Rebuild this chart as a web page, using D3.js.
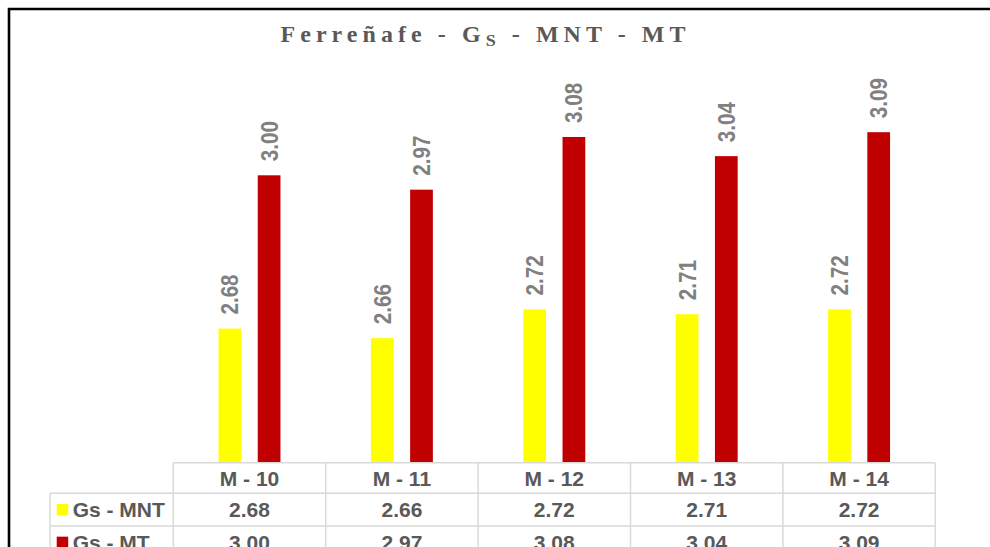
<!DOCTYPE html>
<html>
<head>
<meta charset="utf-8">
<script src="https://cdn.jsdelivr.net/npm/d3@7"></script>
<style>
  html, body { margin: 0; padding: 0; background: #fff; }
  svg { display: block; }
</style>
</head>
<body>
<svg id="chart" width="990" height="547"></svg>
<script>
// Specific gravity per sample, soil without treatment vs. treated soil
const categories = ["M - 10", "M - 11", "M - 12", "M - 13", "M - 14"];
const seriesNames = ["Gs - MNT", "Gs - MT"];
const valuesMNT = [2.68, 2.66, 2.72, 2.71, 2.72];
const valuesMT  = [3.00, 2.97, 3.08, 3.04, 3.09];
const seriesColors = ["#FFFF00", "#C00000"];
const yDomain = [2.4, 3.2];

const seriesValues = [valuesMNT, valuesMT];
const fmt = d3.format(".2f");

const svg = d3.select("#chart");
const W = 990, H = 547;

// frame of the chart area (left and top edges visible)
svg.append("path")
  .attr("d", `M9,${H + 5} L9,9 L${W + 5},9`)
  .attr("fill", "none")
  .attr("stroke", "#000")
  .attr("stroke-width", 2.6);

// title with subscript, spread to a fixed width
const titleWidth = 405;
const title = svg.append("g")
  .attr("transform", "translate(485.5,41.5) scale(1,0.94)")
  .append("text")
  .attr("x", 0)
  .attr("y", 0)
  .attr("text-anchor", "middle")
  .attr("font-family", "'Liberation Serif', 'Times New Roman', serif")
  .attr("font-weight", "bold")
  .attr("font-size", 24)
  .attr("fill", "#595959");
title.append("tspan").text("Ferreñafe - G");
title.append("tspan").attr("font-size", 18).attr("dy", 5).text("S");
title.append("tspan").attr("dy", -5).text(" - MNT - MT");
{
  const raw = title.node().getComputedTextLength();
  const nChars = "Ferreñafe - GS - MNT - MT".length - 1;
  title.attr("letter-spacing", ((titleWidth - raw) / nChars).toFixed(2) + "px");
}

// plot geometry
const plotLeft = 173.3, plotRight = 935.3;
const baseY = 462.7, topY = 79.5;

const x = d3.scaleBand().domain(categories).range([plotLeft, plotRight]).padding(0);
const xs = d3.scaleBand().domain(seriesNames).range([0, x.bandwidth()])
  .paddingInner(0.42).paddingOuter(1.154);
const y = d3.scaleLinear().domain(yDomain).range([baseY, topY]);

const groups = svg.append("g").selectAll("g")
  .data(categories)
  .join("g")
  .attr("transform", c => `translate(${x(c)},0)`);

groups.each(function(c, ci) {
  const g = d3.select(this);
  seriesNames.forEach((s, si) => {
    const v = seriesValues[si][ci];
    g.append("rect")
      .attr("x", xs(s))
      .attr("width", xs.bandwidth())
      .attr("y", y(v))
      .attr("height", baseY - y(v))
      .attr("fill", seriesColors[si]);
    // rotated value label above the bar
    const cx = xs(s) + xs.bandwidth() / 2;
    g.append("text")
      .attr("transform", `translate(${cx},${y(v) - 14}) rotate(-90) scale(0.86,1)`)
      .attr("dy", "0.35em")
      .attr("text-anchor", "start")
      .attr("font-family", "'Liberation Sans', Arial, sans-serif")
      .attr("font-weight", "bold")
      .attr("font-size", 24)
      .attr("fill", "#808080")
      .text(fmt(v));
  });
});

// data table under the plot
const gridColor = "#d9d9d9";
const legendLeft = 50;
const headerH = 30.6, rowH = 32.7;
const rowTops = [baseY + headerH, baseY + headerH + rowH];
const table = svg.append("g");
const tableFont = "'Liberation Sans', Arial, sans-serif";

// horizontal grid lines
table.append("line")
  .attr("x1", plotLeft).attr("x2", plotRight)
  .attr("y1", baseY).attr("y2", baseY)
  .attr("stroke", gridColor).attr("stroke-width", 1.5);
rowTops.concat([rowTops[1] + rowH]).forEach(t => {
  table.append("line")
    .attr("x1", legendLeft).attr("x2", plotRight)
    .attr("y1", t).attr("y2", t)
    .attr("stroke", gridColor).attr("stroke-width", 1.5);
});
// vertical grid lines
const colEdges = categories.map(c => x(c)).concat([plotRight]);
colEdges.forEach(e => {
  table.append("line")
    .attr("x1", e).attr("x2", e)
    .attr("y1", baseY).attr("y2", H + 5)
    .attr("stroke", gridColor).attr("stroke-width", 1.5);
});
table.append("line")
  .attr("x1", legendLeft).attr("x2", legendLeft)
  .attr("y1", rowTops[0]).attr("y2", H + 5)
  .attr("stroke", gridColor).attr("stroke-width", 1.5);

// header row
table.selectAll("text.head")
  .data(categories)
  .join("text")
  .attr("class", "head")
  .attr("x", c => x(c) + x.bandwidth() / 2)
  .attr("y", baseY + headerH / 2)
  .attr("dy", "0.36em")
  .attr("text-anchor", "middle")
  .attr("font-family", tableFont)
  .attr("font-weight", "bold")
  .attr("font-size", 21)
  .attr("fill", "#595959")
  .text(c => c);

// value rows with legend keys
seriesNames.forEach((s, si) => {
  const cy = rowTops[si] + rowH / 2;
  table.append("rect")
    .attr("x", 56.7).attr("y", cy - 5.7)
    .attr("width", 11.5).attr("height", 11.5)
    .attr("fill", seriesColors[si]);
  table.append("text")
    .attr("x", 72.7).attr("y", cy)
    .attr("dy", "0.36em")
    .attr("font-family", tableFont)
    .attr("font-weight", "bold")
    .attr("font-size", 21)
    .attr("fill", "#595959")
    .text(s);
  table.selectAll(null)
    .data(categories)
    .join("text")
    .attr("x", c => x(c) + x.bandwidth() / 2)
    .attr("y", cy)
    .attr("dy", "0.36em")
    .attr("text-anchor", "middle")
    .attr("font-family", tableFont)
    .attr("font-weight", "bold")
    .attr("font-size", 21)
    .attr("fill", "#595959")
    .text((c, ci) => fmt(seriesValues[si][ci]));
});
</script>
</body>
</html>
